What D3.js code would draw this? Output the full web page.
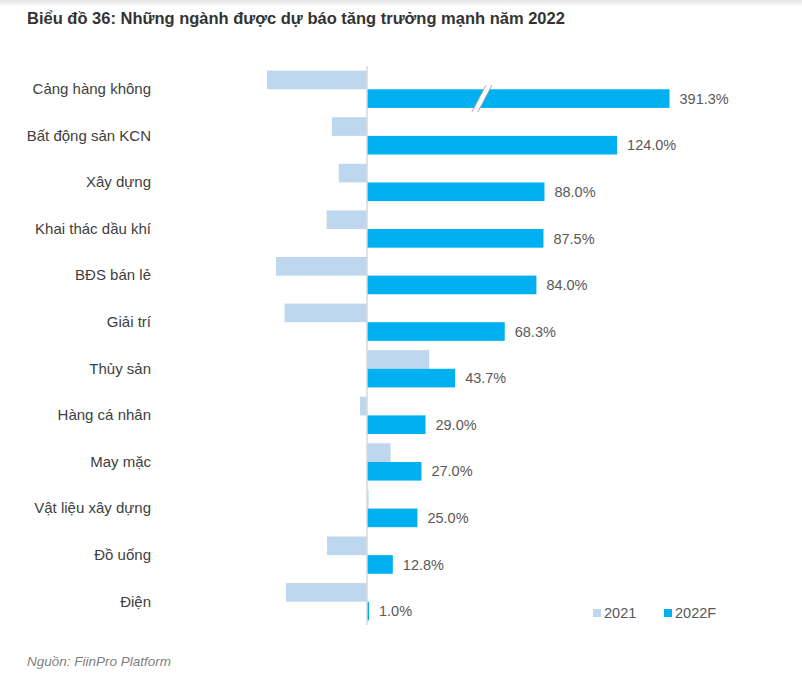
<!DOCTYPE html>
<html>
<head>
<meta charset="utf-8">
<script src="https://cdn.jsdelivr.net/npm/d3@7"></script>
<style>
  body { margin: 0; background: #fff; }
  svg { display: block; font-family: "Liberation Sans", Arial, sans-serif; }
</style>
</head>
<body>
<div id="chart"></div>
<script>
// categories and values (growth, %)
const sectors = ["Cảng hàng không", "Bất động sản KCN", "Xây dựng", "Khai thác dầu khí",
  "BĐS bán lẻ", "Giải trí", "Thủy sản", "Hàng cá nhân", "May mặc",
  "Vật liệu xây dựng", "Đồ uống", "Điện"];
const growth2021 = [-49.6, -17.4, -14.0, -20.0, -45.1, -40.9, 30.8, -3.5, 11.7, 0.8, -19.8, -40.2];
const growth2022F = [391.3, 124.0, 88.0, 87.5, 84.0, 68.3, 43.7, 29.0, 27.0, 25.0, 12.8, 1.0];
const seriesNames = ["2021", "2022F"];

const colors = { "2021": "#bdd7ee", "2022F": "#00b0f0" };

const svgWidth = 802;
const svgHeight = 687;

let svg = d3.select("#chart")
  .append("svg")
  .attr("width", svgWidth)
  .attr("height", svgHeight);

// faint shadow at the top edge of the page
let grad = svg.append("defs").append("linearGradient")
  .attr("id", "topShade").attr("x1", 0).attr("y1", 0).attr("x2", 0).attr("y2", 1);
grad.append("stop").attr("offset", "0%").attr("stop-color", "#e4e4e4");
grad.append("stop").attr("offset", "100%").attr("stop-color", "#ffffff");
svg.append("rect").attr("width", svgWidth).attr("height", 7).attr("fill", "url(#topShade)");

// title
svg.append("text")
  .attr("x", 27)
  .attr("y", 24)
  .attr("font-size", "16.5px")
  .attr("font-weight", "bold")
  .attr("fill", "#333")
  .text("Biểu đồ 36: Những ngành được dự báo tăng trưởng mạnh năm 2022");

// the x axis is broken: values above 150 are clamped (bar shows a break mark)
let x = d3.scaleLinear()
  .domain([-60, 150])
  .range([246, 669.5])
  .clamp(true);

let y = d3.scaleBand()
  .domain(sectors)
  .range([66, 625])
  .paddingInner(0.2)
  .paddingOuter(0.1);

let ySeries = d3.scaleBand()
  .domain(seriesNames)
  .range([0, y.bandwidth()]);

let rows = sectors.map((s, i) => ({ sector: s, "2021": growth2021[i], "2022F": growth2022F[i] }));

let groups = svg.selectAll("g.row")
  .data(rows)
  .join("g")
  .attr("class", "row")
  .attr("transform", d => `translate(0, ${y(d.sector)})`);

groups.selectAll("rect")
  .data(d => seriesNames.map(k => ({ key: k, value: d[k] })))
  .join("rect")
  .attr("x", d => Math.min(x(0), x(d.value)))
  .attr("y", d => ySeries(d.key))
  .attr("width", d => Math.abs(x(d.value) - x(0)))
  .attr("height", ySeries.bandwidth())
  .attr("fill", d => colors[d.key]);

// value labels for 2022F
groups.append("text")
  .attr("x", d => x(d["2022F"]) + 10)
  .attr("y", ySeries("2022F") + ySeries.bandwidth() / 2)
  .attr("dy", "0.36em")
  .attr("font-size", "14.5px")
  .attr("fill", "#595959")
  .text(d => d["2022F"].toFixed(1) + "%");

// zero line
svg.append("line")
  .attr("x1", x(0)).attr("x2", x(0))
  .attr("y1", 66).attr("y2", 625)
  .attr("stroke", "#d9d9d9")
  .attr("stroke-width", 1.5);

// category labels
let yAxis = svg.append("g")
  .attr("transform", "translate(151, 0)")
  .call(d3.axisLeft(y).tickSize(0).tickPadding(0));
yAxis.select(".domain").remove();
yAxis.selectAll("text")
  .attr("font-family", "Liberation Sans, Arial, sans-serif")
  .attr("font-size", "15px")
  .attr("fill", "#404040");

// break mark on the clamped bar
const breakAt = 55;
let by = y(sectors[0]) + ySeries("2022F");
let bx = x(breakAt);
let bh = ySeries.bandwidth();
svg.append("path")
  .attr("d", `M${bx + 8},${by - 4} L${bx + 14},${by - 4} L${bx},${by + bh + 4} L${bx - 6},${by + bh + 4} Z`)
  .attr("fill", "#fff");
[[0, 0], [6, 6]].forEach(o => {
  svg.append("line")
    .attr("x1", bx + 8 + o[0]).attr("y1", by - 4)
    .attr("x2", bx - 6 + o[1]).attr("y2", by + bh + 4)
    .attr("stroke", "#a6a6a6")
    .attr("stroke-width", 1);
});

// legend
let legend = svg.append("g").attr("transform", "translate(593, 609)");
seriesNames.forEach((s, i) => {
  let g = legend.append("g").attr("transform", `translate(${i * 71}, 0)`);
  g.append("rect").attr("width", 8).attr("height", 8).attr("fill", colors[s]);
  g.append("text")
    .attr("x", 11)
    .attr("y", 8.5)
    .attr("font-size", "14.5px")
    .attr("fill", "#595959")
    .text(s);
});

// source
svg.append("text")
  .attr("x", 27)
  .attr("y", 666)
  .attr("font-size", "13.5px")
  .attr("font-style", "italic")
  .attr("fill", "#7f7f7f")
  .text("Nguồn: FiinPro Platform");
</script>
</body>
</html>
